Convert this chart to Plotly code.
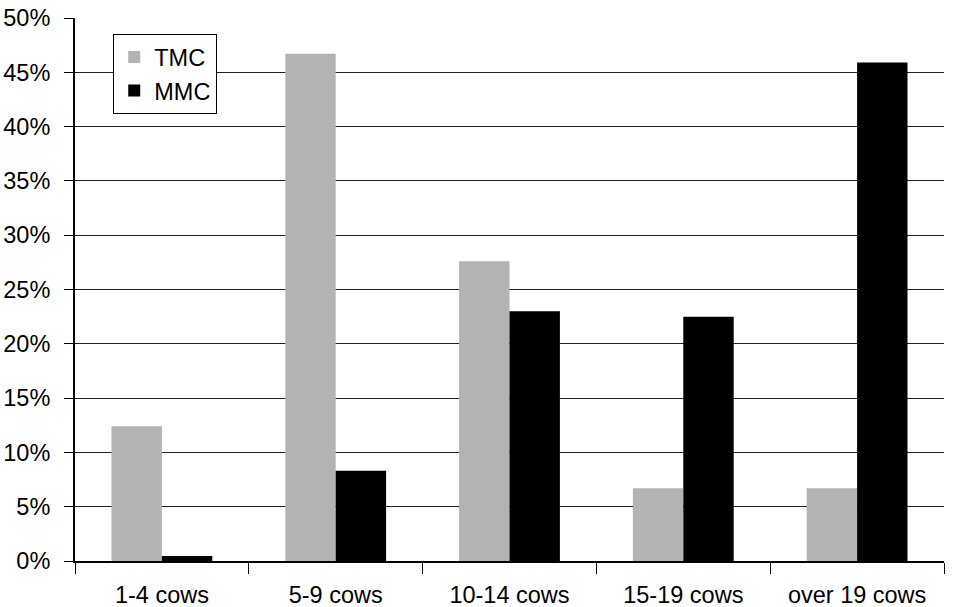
import plotly.graph_objects as go

categories = ["1-4 cows", "5-9 cows", "10-14 cows", "15-19 cows", "over 19 cows"]
tmc = [12.4, 46.7, 27.6, 6.7, 6.7]
mmc = [0.45, 8.3, 23.0, 22.5, 45.9]
ytick_vals = [0, 5, 10, 15, 20, 25, 30, 35, 40, 45, 50]
ytick_text = [f"{v}%" for v in ytick_vals]

fig = go.Figure()
fig.add_trace(go.Bar(x=categories, y=tmc, name="TMC", marker=dict(color="#b3b3b3", line=dict(width=0))))
fig.add_trace(go.Bar(x=categories, y=mmc, name="MMC", marker=dict(color="#000000", line=dict(width=0))))

fig.update_layout(
    width=963, height=607,
    margin=dict(l=75, r=19, t=18, b=46, autoexpand=False),
    paper_bgcolor="white", plot_bgcolor="white",
    barmode="group", bargap=0.42, bargroupgap=0,
    font=dict(family="Liberation Sans, Arial", size=23.5, color="black"),
    legend=dict(x=0.044, y=0.97, xanchor="left", yanchor="top",
                bordercolor="black", borderwidth=1, bgcolor="white",
                font=dict(size=23.5), tracegroupgap=0),
    xaxis=dict(showline=True, linecolor="black", linewidth=2, ticks="outside",
               tickson="boundaries", ticklen=11, tickcolor="black", tickwidth=1,
               showgrid=False, mirror=False, ticklabelstandoff=12),
    yaxis=dict(range=[0, 50], tickvals=ytick_vals, ticktext=ytick_text,
               showline=True, linecolor="black", linewidth=2, ticks="outside",
               ticklen=9, tickcolor="black", showgrid=True, gridcolor="#222222",
               gridwidth=1, zeroline=False, ticklabelstandoff=9,
               ticklabeloverflow="allow"),
)

fig.write_html("out.html", config={"displayModeBar": False},
               post_script="document.body.style.margin='0';")
